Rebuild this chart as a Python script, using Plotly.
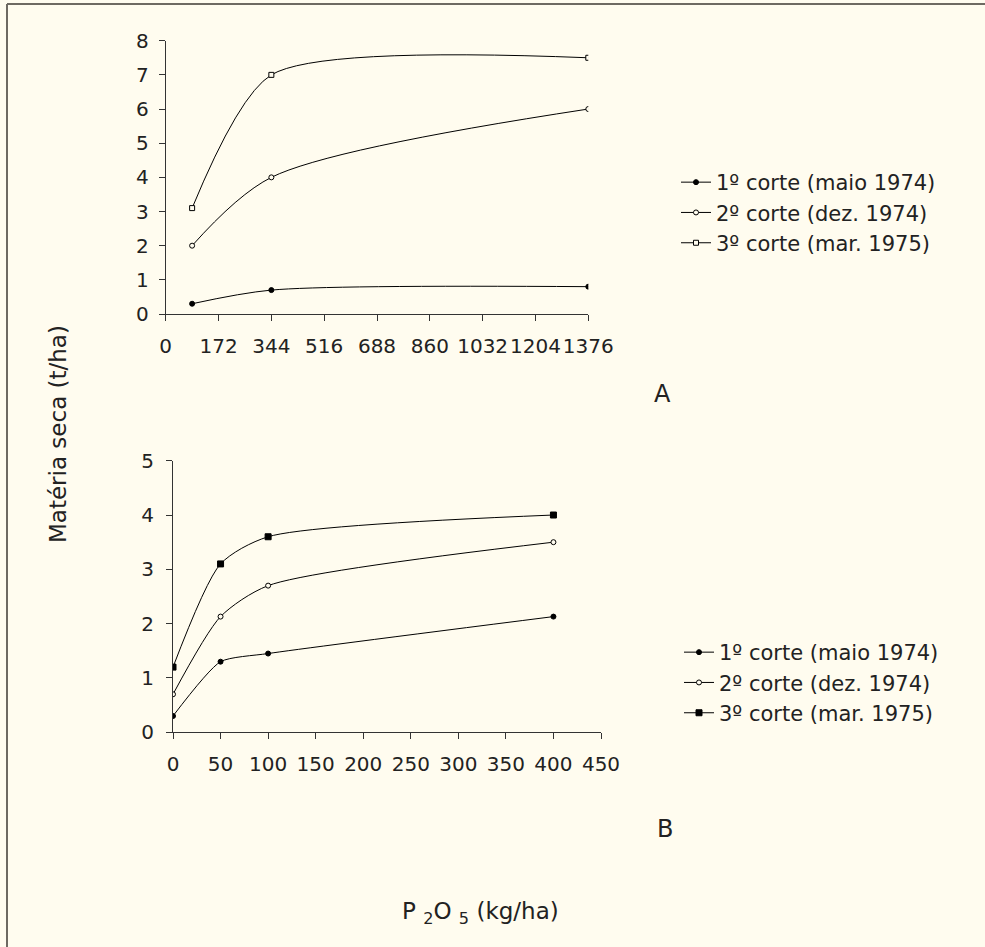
import plotly.graph_objects as go

# ---- Data (panel A) ----
x_a = [86, 344, 1376]
a_corte1 = [0.3, 0.7, 0.8]
a_corte2 = [2.0, 4.0, 6.0]
a_corte3 = [3.1, 7.0, 7.5]
a_xticks = [0, 172, 344, 516, 688, 860, 1032, 1204, 1376]

# ---- Data (panel B) ----
x_b = [0, 50, 100, 400]
b_corte1 = [0.3, 1.3, 1.45, 2.13]
b_corte2 = [0.7, 2.13, 2.7, 3.5]
b_corte3 = [1.2, 3.1, 3.6, 4.0]
b_xticks = [0, 50, 100, 150, 200, 250, 300, 350, 400, 450]

names = ["1º corte (maio 1974)", "2º corte (dez. 1974)", "3º corte (mar. 1975)"]

BG = "#FFFCEF"
FONT = "'DejaVu Sans', sans-serif"
INK = "#222222"

W, H = 985, 947

def px_x(p):
    return p / W

def px_y(p):
    return 1 - p / H

fig = go.Figure()

def ln(sm):
    return dict(color="black", width=1, shape="spline", smoothing=sm)

def mk(symbol, filled, size):
    return dict(symbol=symbol, size=size,
                color="black" if filled else BG,
                line=dict(color="black", width=1))

# Panel A traces
fig.add_trace(go.Scatter(x=x_a, y=a_corte1, mode="lines+markers", name=names[0],
                         line=ln(0.8), marker=mk("circle", True, 5),
                         xaxis="x", yaxis="y", legend="legend"))
fig.add_trace(go.Scatter(x=x_a, y=a_corte2, mode="lines+markers", name=names[1],
                         line=ln(0.85), marker=mk("circle", False, 5),
                         xaxis="x", yaxis="y", legend="legend"))
fig.add_trace(go.Scatter(x=x_a, y=a_corte3, mode="lines+markers", name=names[2],
                         line=ln(0.7), marker=mk("square", False, 5),
                         xaxis="x", yaxis="y", legend="legend"))

# Panel B traces
fig.add_trace(go.Scatter(x=x_b, y=b_corte1, mode="lines+markers", name=names[0],
                         line=ln(0.6), marker=mk("circle", True, 5),
                         xaxis="x2", yaxis="y2", legend="legend2"))
fig.add_trace(go.Scatter(x=x_b, y=b_corte2, mode="lines+markers", name=names[1],
                         line=ln(0.7), marker=mk("circle", False, 5),
                         xaxis="x2", yaxis="y2", legend="legend2"))
fig.add_trace(go.Scatter(x=x_b, y=b_corte3, mode="lines+markers", name=names[2],
                         line=ln(0.7), marker=mk("square", True, 6),
                         xaxis="x2", yaxis="y2", legend="legend2"))

axis_common = dict(showgrid=False, zeroline=False, showline=True, automargin=False,
                   linecolor="#333333", linewidth=1, tickangle=0,
                   ticks="outside", ticklen=6, tickcolor="#333333", tickwidth=1,
                   tickfont=dict(family=FONT, size=20, color=INK))

fig.update_layout(
    width=W, height=H,
    margin=dict(l=0, r=0, t=0, b=0, pad=0, autoexpand=False),
    paper_bgcolor=BG, plot_bgcolor=BG,
    font=dict(family=FONT, color=INK),
    xaxis=dict(domain=[px_x(165.7), px_x(588.3)], anchor="y",
               range=[0, 1376], tickmode="array", tickvals=a_xticks,
               ticktext=[str(v) for v in a_xticks], ticklabelstandoff=8,
               **axis_common),
    yaxis=dict(domain=[px_y(314), px_y(40.7)], anchor="x",
               range=[0, 8], tickmode="linear", tick0=0, dtick=1,
               ticklabelstandoff=6, **axis_common),
    xaxis2=dict(domain=[px_x(173), px_x(601)], anchor="y2",
                range=[0, 450], tickmode="array", tickvals=b_xticks,
                ticklabelstandoff=8, **axis_common),
    yaxis2=dict(domain=[px_y(732.3), px_y(460.7)], anchor="x2",
                range=[0, 5], tickmode="linear", tick0=0, dtick=1,
                ticklabelstandoff=8, **axis_common),
    legend=dict(x=px_x(676), y=px_y(162), xanchor="left", yanchor="top",
                bgcolor="rgba(0,0,0,0)", itemwidth=30,
                font=dict(family=FONT, size=21, color=INK), tracegroupgap=0),
    legend2=dict(x=px_x(679), y=px_y(632), xanchor="left", yanchor="top",
                 bgcolor="rgba(0,0,0,0)", itemwidth=30,
                 font=dict(family=FONT, size=21, color=INK), tracegroupgap=0),
    annotations=[
        dict(text="A", x=px_x(673), y=px_y(394), xref="paper", yref="paper",
             showarrow=False, font=dict(family=FONT, size=24, color=INK)),
        dict(text="B", x=px_x(675), y=px_y(845), xref="paper", yref="paper",
             showarrow=False, font=dict(family=FONT, size=24, color=INK)),
        dict(text="Matéria seca (t/ha)", x=px_x(43), y=px_y(434),
             xref="paper", yref="paper", showarrow=False, textangle=-90,
             font=dict(family=FONT, size=23, color=INK)),
        dict(text="P <sub>2</sub>O <sub>5</sub> (kg/ha)", x=px_x(480), y=px_y(930),
             xref="paper", yref="paper", showarrow=False,
             font=dict(family=FONT, size=23, color=INK)),
    ],
    shapes=[
        dict(type="line", xref="paper", yref="paper", x0=px_x(7), x1=1.0,
             y0=px_y(4), y1=px_y(4), line=dict(color="#6e6a62", width=2)),
        dict(type="line", xref="paper", yref="paper", x0=px_x(7), x1=px_x(7),
             y0=px_y(4), y1=0, line=dict(color="#6e6a62", width=2)),
    ],
)

fig.write_html(
    "out.html",
    post_script="document.body.style.margin='0';document.body.style.padding='0';"
                "document.body.style.overflow='hidden';",
)
